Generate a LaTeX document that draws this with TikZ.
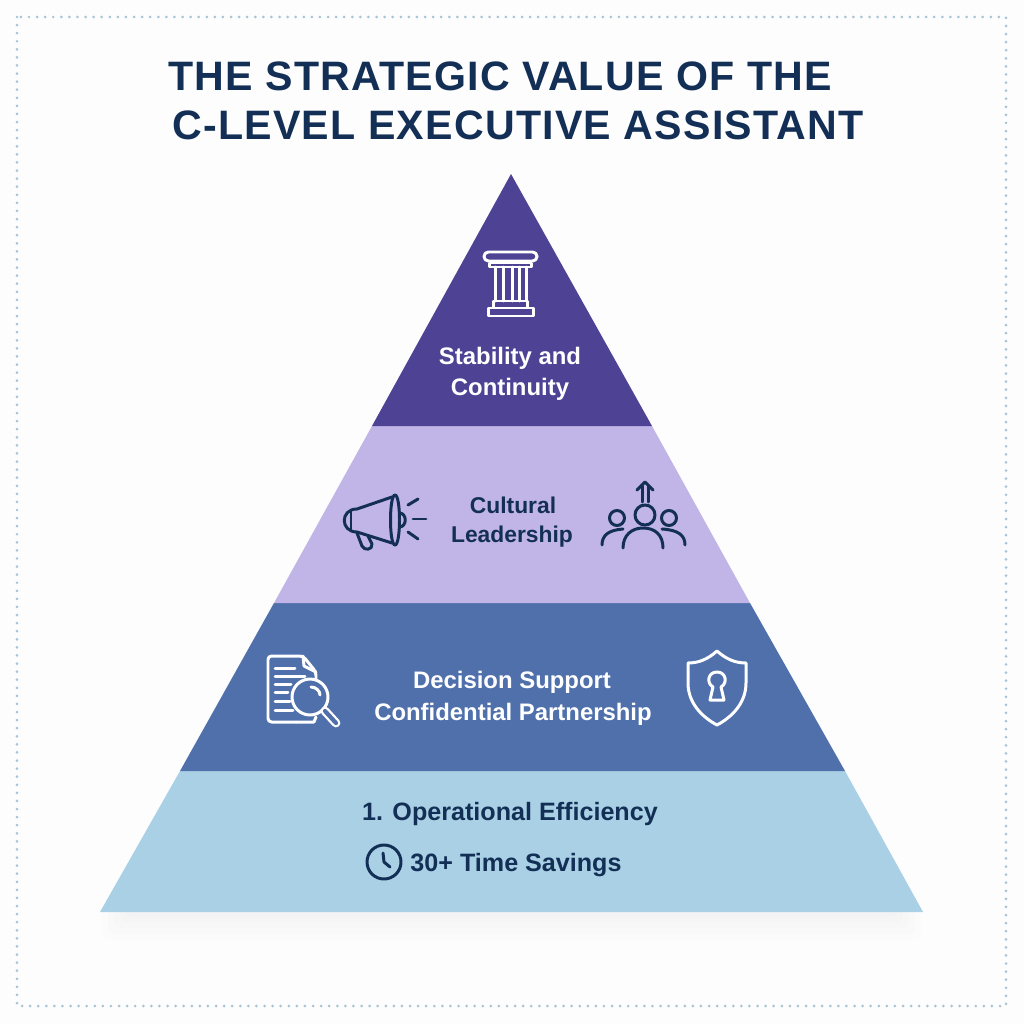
\documentclass[tikz,border=0pt]{standalone}
\usepackage{fontspec}
\setmainfont{Liberation Sans}
\newfontfamily\titlefont[LetterSpace=3]{Liberation Sans}
\definecolor{paper}{HTML}{FDFDFE}
\definecolor{navy}{HTML}{132F55}
\definecolor{topband}{HTML}{4D4294}
\definecolor{lilacband}{HTML}{C0B5E6}
\definecolor{blueband}{HTML}{5070AB}
\definecolor{skyband}{HTML}{A9D0E5}
\definecolor{edgedots}{HTML}{A9C4D4}
\tikzset{
	headline/.style={font=\titlefont\fontsize{23.4}{28}\selectfont\bfseries, text=navy},
	lightlabel/.style={font=\fontsize{13.6}{16}\selectfont\bfseries, text=white},
	darklabel/.style={font=\fontsize{13}{16}\selectfont\bfseries, text=navy},
	baselabel/.style={font=\fontsize{14.3}{17}\selectfont\bfseries, text=navy},
	lighticon/.style={draw=white, line width=1.7pt, line cap=round, line join=round},
	darkicon/.style={draw=navy, line width=1.7pt, line cap=round, line join=round},
}
\begin{document}
\begin{tikzpicture}[x=0.02cm, y=-0.02cm]
	\useasboundingbox (0,0) rectangle (1024,1024);
	\fill[paper] (0,0) rectangle (1024,1024);
	\draw[edgedots, line width=1.7pt, line cap=round, dash pattern=on 0pt off 4.6pt] (17,17) rectangle (1006,1006);
	% soft shadow under the base
	\foreach \grow in {28,22,16,10,5}
		\fill[navy, opacity=0.006, rounded corners=4pt] (130-\grow,905) rectangle (893+\grow,912+\grow);
	% bands
	\coordinate (A) at (511,174);
	\coordinate (B1) at (372,426);
	\coordinate (B2) at (652,426);
	\coordinate (C1) at (274,603);
	\coordinate (C2) at (750,603);
	\coordinate (D1) at (180,771);
	\coordinate (D2) at (845,771);
	\coordinate (E1) at (100,912);
	\coordinate (E2) at (923,912);
	\fill[skyband] (D1) -- (D2) -- (E2) -- (E1) -- cycle;
	\fill[blueband] (C1) -- (C2) -- (D2) -- (D1) -- cycle;
	\fill[lilacband] (B1) -- (B2) -- (C2) -- (C1) -- cycle;
	\fill[topband] (A) -- (B2) -- (B1) -- cycle;
	% title
	\node[headline] (T1) at (500,76) {THE STRATEGIC VALUE OF THE};
	\node[headline] (T2) at (518,125) {C-LEVEL EXECUTIVE ASSISTANT};
	% labels
	\node[lightlabel] (S1) at (510,358) {Stability and};
	\node[lightlabel] (S2) at (510,389) {Continuity};
	\node[darklabel] (L1) at (513,505) {Cultural};
	\node[darklabel] (L2) at (512,537) {Leadership};
	\node[lightlabel] (P1) at (512,682) {Decision Support};
	\node[lightlabel] (P2) at (513,714) {Confidential Partnership};
	\node[baselabel] (O1) at (510,814) {1. Operational Efficiency};
	\node[baselabel] (O2) at (516,865) {30+ Time Savings};
	% pillar
	\draw[lighticon, rounded corners=2.5pt] (484,252) rectangle (537,261);
	\draw[lighticon] (489,263) rectangle (531,267);
	\draw[lighticon] (495,267) -- (495,301);
	\draw[lighticon] (503,267) -- (503,301);
	\draw[lighticon] (512,267) -- (512,301);
	\draw[lighticon] (519,267) -- (519,301);
	\draw[lighticon] (526,267) -- (526,301);
	\draw[lighticon] (493,301) rectangle (527,308);
	\draw[lighticon] (488,308) rectangle (533,316);
	% megaphone
	\draw[darkicon] (392,497) -- (357,509) .. controls (340,509) and (340,532) .. (357,532) -- (392,543);
	\draw[darkicon] (395,495) .. controls (389,495) and (389,545) .. (395,545) .. controls (401,545) and (401,495) .. (395,495);
	\draw[darkicon] (351,511) -- (351,530);
	\draw[darkicon] (357,533) -- (362,546) .. controls (364,551) and (373,550) .. (372,544) -- (368,536);
	\draw[darkicon] (400,513) .. controls (407,514) and (407,526) .. (400,527);
	\draw[darkicon] (408,505) -- (418,499);
	\draw[darkicon] (413,519) -- (426,519);
	\draw[darkicon] (408,532) -- (418,539);
	% people
	\draw[darkicon] (645,515) circle (10);
	\draw[darkicon] (617,518) circle (7.5);
	\draw[darkicon] (669,518) circle (7.5);
	\draw[darkicon] (642,502) -- (642,486);
	\draw[darkicon] (648,502) -- (648,486);
	\draw[darkicon] (637,490) -- (645,482) -- (653,490);
	\draw[darkicon] (623,548) .. controls (623,535) and (632,528) .. (643,528) .. controls (655,528) and (663,535) .. (663,548);
	\draw[darkicon] (602,545) .. controls (602,535) and (609,530) .. (623,529);
	\draw[darkicon] (685,545) .. controls (685,535) and (678,530) .. (662,529);
	% document and lens
	\draw[lighticon, rounded corners=2pt] (296,722) -- (268,722) -- (268,656) -- (303,656) -- (316,672) -- (316,680);
	\draw[lighticon] (316,717) -- (314,722) -- (296,722);
	\draw[lighticon] (303,656) -- (304,666) -- (316,672);
	\draw[lighticon] (275,668) -- (295,668);
	\draw[lighticon] (275,676) -- (305,676);
	\draw[lighticon] (275,684) -- (291,684);
	\draw[lighticon] (275,692) -- (288,692);
	\draw[lighticon] (275,701) -- (290,701);
	\draw[lighticon] (275,710) -- (293,710);
	\draw[lighticon] (310,697) circle (18);
	\draw[lighticon] (311,687) .. controls (316,687) and (320,691) .. (320,695);
	\draw[white, line width=5pt, line cap=round] (325,711) -- (336,723);
	\draw[blueband, line width=2.4pt, line cap=round] (325,711) -- (336,723);
	% shield
	\draw[lighticon] (717,651) .. controls (708,659) and (699,663) .. (688,663) -- (688,683) .. controls (688,703) and (702,717) .. (717,725) .. controls (732,717) and (746,703) .. (746,683) -- (746,663) .. controls (735,663) and (726,659) .. (717,651) -- cycle;
	\draw[lighticon] (713,687) .. controls (706,683) and (708,672) .. (717,672) .. controls (726,672) and (728,683) .. (721,687) -- (724,700) -- (710,700) -- cycle;
	% clock
	\draw[darkicon] (384,862) circle (17);
	\draw[darkicon] (383,853) -- (384,862) -- (390,867);
\end{tikzpicture}
\end{document}
